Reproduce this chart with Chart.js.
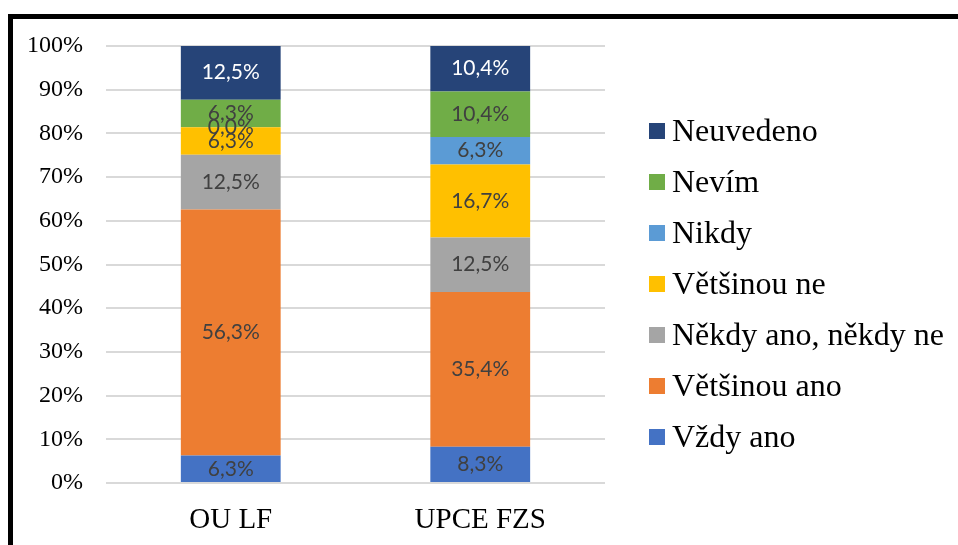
<!DOCTYPE html>
<html>
<head>
<meta charset="utf-8">
<script src="https://cdn.jsdelivr.net/npm/chart.js@4.4.1/dist/chart.umd.min.js"></script>
<style>
  html, body { margin: 0; padding: 0; background: #fff; overflow: hidden; }
  #frame {
    position: absolute; left: 8px; top: 14px;
    width: 1000px; height: 600px;
    border-top: 5px solid #000; border-left: 5px solid #000;
  }
  #chart { position: absolute; left: 0; top: 0; }
  #legend {
    position: absolute; left: 649px; top: 105px;
    font-family: "Liberation Serif", "Times New Roman", serif;
    font-size: 32px; color: #000;
  }
  .item { display: flex; align-items: center; height: 51px; line-height: 51px; white-space: nowrap; }
  .box { width: 16px; height: 16px; margin-right: 7px; flex: none; }
</style>
</head>
<body>
<div id="frame"></div>
<canvas id="chart" width="958" height="545"></canvas>
<div id="legend"></div>
<script>
'use strict';

// DATA
const categories = ['OU LF', 'UPCE FZS'];
const seriesNames = ['Vždy ano', 'Většinou ano', 'Někdy ano, někdy ne', 'Většinou ne', 'Nikdy', 'Nevím', 'Neuvedeno'];
const seriesColors = ['#4472C4', '#ED7D31', '#A5A5A5', '#FFC000', '#5B9BD5', '#70AD47', '#264478'];
const vzdyAno = [6.3, 8.3];
const vetsinouAno = [56.3, 35.4];
const nekdy = [12.5, 12.5];
const vetsinouNe = [6.3, 16.7];
const nikdy = [0.0, 6.3];
const nevim = [6.3, 10.4];
const neuvedeno = [12.5, 10.4];
const yTicks = [0, 10, 20, 30, 40, 50, 60, 70, 80, 90, 100];

const seriesValues = [vzdyAno, vetsinouAno, nekdy, vetsinouNe, nikdy, nevim, neuvedeno];

// DATASETS
let datasets = [];
for (let i = 0; i < seriesNames.length; i++) {
  datasets.push({
    label: seriesNames[i],
    data: seriesValues[i],
    backgroundColor: seriesColors[i],
    borderWidth: 0,
    categoryPercentage: 1,
    barPercentage: 0.4,
    labelColor: i === seriesNames.length - 1 ? '#ffffff' : '#404040'
  });
}

// value labels in the middle of each segment
const segmentLabels = {
  id: 'segmentLabels',
  afterDatasetsDraw(chart) {
    const ctx = chart.ctx;
    ctx.save();
    ctx.font = '21px Lato, "Open Sans", sans-serif';
    ctx.textAlign = 'center';
    ctx.textBaseline = 'middle';
    chart.data.datasets.forEach((ds, di) => {
      const meta = chart.getDatasetMeta(di);
      meta.data.forEach((bar, j) => {
        const txt = ds.data[j].toFixed(1).replace('.', ',') + '%';
        ctx.fillStyle = ds.labelColor;
        ctx.fillText(txt, bar.x, (bar.y + bar.base) / 2);
      });
    });
    ctx.restore();
  }
};

new Chart(document.getElementById('chart'), {
  type: 'bar',
  data: { labels: categories, datasets: datasets },
  plugins: [segmentLabels],
  options: {
    responsive: false,
    animation: false,
    layout: { padding: { left: 4, right: 353, top: 46, bottom: 0 } },
    plugins: {
      legend: { display: false },
      tooltip: { enabled: false }
    },
    scales: {
      x: {
        stacked: true,
        grid: { display: false },
        border: { display: false },
        afterFit(axis) {
          axis.height = 62;
        },
        ticks: {
          color: '#000',
          padding: 12,
          font: { family: '"Liberation Serif", "Times New Roman", serif', size: 29 }
        }
      },
      y: {
        stacked: true,
        min: 0,
        max: 100,
        afterBuildTicks(axis) {
          axis.ticks = yTicks.map(v => ({ value: v }));
        },
        grid: { color: '#d9d9d9', lineWidth: 2, drawTicks: false },
        border: { display: false },
        ticks: {
          color: '#000',
          padding: 23,
          font: { family: '"Liberation Serif", "Times New Roman", serif', size: 24 },
          callback: v => v + '%'
        }
      }
    }
  }
});

// LEGEND (top item is the last series, as in the reference)
let legendEl = document.getElementById('legend');
for (let i = seriesNames.length - 1; i >= 0; i--) {
  let item = document.createElement('div');
  item.className = 'item';
  let box = document.createElement('span');
  box.className = 'box';
  box.style.background = seriesColors[i];
  let text = document.createElement('span');
  text.textContent = seriesNames[i];
  item.appendChild(box);
  item.appendChild(text);
  legendEl.appendChild(item);
}
</script>
</body>
</html>
